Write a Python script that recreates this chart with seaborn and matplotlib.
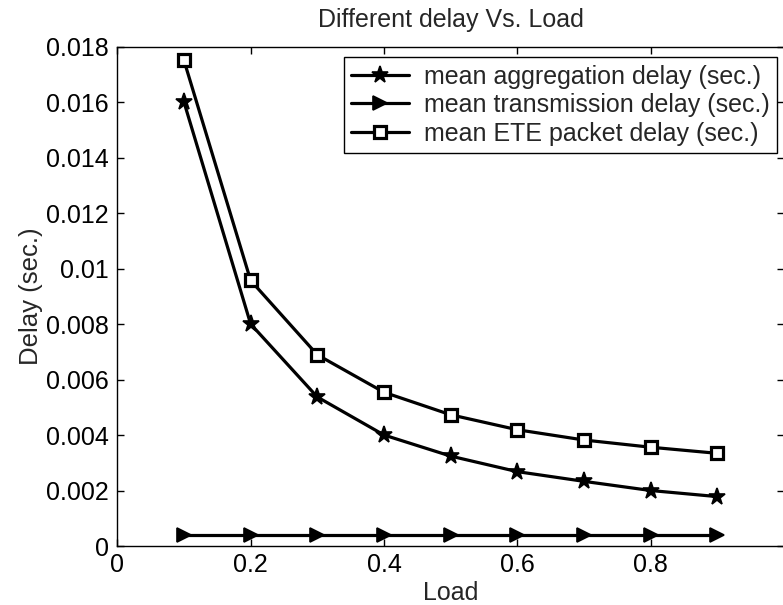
import matplotlib
matplotlib.use("Agg")
import matplotlib.pyplot as plt
import seaborn as sns
import pandas as pd

load = [0.1, 0.2, 0.3, 0.4, 0.5, 0.6, 0.7, 0.8, 0.9]
agg_delay = [0.0160, 0.0080, 0.00537, 0.0040, 0.00324, 0.00268, 0.00233, 0.0020, 0.00178]
trans_delay = [0.0004, 0.0004, 0.0004, 0.0004, 0.0004, 0.0004, 0.0004, 0.0004, 0.0004]
ete_delay = [0.0175, 0.00957, 0.00689, 0.00554, 0.00473, 0.00419, 0.00382, 0.00356, 0.00334]

labels = ["mean aggregation delay (sec.)",
          "mean transmission delay (sec.)",
          "mean ETE packet delay (sec.)"]
xticks = [0, 0.2, 0.4, 0.6, 0.8]
xtick_labels = ["0", "0.2", "0.4", "0.6", "0.8"]
yticks = [0, 0.002, 0.004, 0.006, 0.008, 0.01, 0.012, 0.014, 0.016, 0.018]
ytick_labels = ["0", "0.002", "0.004", "0.006", "0.008", "0.01", "0.012",
                "0.014", "0.016", "0.018"]

sns.set_theme(style="white")
plt.rcParams["font.family"] = ["Liberation Sans", "DejaVu Sans"]

fig = plt.figure(figsize=(7.83, 6.05), dpi=100)
ax = fig.add_axes([0.1498, 0.0975, 0.8515, 0.8256])

styles = [
    dict(marker="*", markersize=12.5, markerfacecolor="black", markeredgecolor="black", markeredgewidth=1.2),
    dict(marker=">", markersize=10.5, markerfacecolor="black", markeredgecolor="black", markeredgewidth=1.2),
    dict(marker="s", markersize=9, markerfacecolor="white", markeredgecolor="black", markeredgewidth=2.3),
]
for vals, lab, st in zip([agg_delay, trans_delay, ete_delay], labels, styles):
    df = pd.DataFrame({"Load": load, "Delay": vals})
    sns.lineplot(data=df, x="Load", y="Delay", ax=ax, color="black",
                 linewidth=2.3, label=lab, **st)

ax.set_xlim(0, 1)
ax.set_ylim(0, 0.018)
ax.set_xticks(xticks)
ax.set_xticklabels(xtick_labels)
ax.set_yticks(yticks)
ax.set_yticklabels(ytick_labels)
ax.tick_params(axis="both", direction="in", length=5, width=1, colors="black",
               labelsize=18, top=True, right=True, bottom=True, left=True)
ax.tick_params(axis="y", pad=6)
ax.tick_params(axis="x", pad=5)
for sp in ax.spines.values():
    sp.set_color("black")
    sp.set_linewidth(1.0)
    sp.set_visible(True)

ax.set_xlabel("Load", fontsize=18, labelpad=3)
ax.set_ylabel("Delay (sec.)", fontsize=18.5, labelpad=2)
ax.set_title("Different delay Vs. Load", fontsize=18, pad=14)

leg = ax.legend(loc="upper right", bbox_to_anchor=(0.9895, 0.979), borderaxespad=0,
                fontsize=18, frameon=True, fancybox=False, edgecolor="black",
                framealpha=1, handlelength=2.3, handletextpad=0.6,
                borderpad=0.3, labelspacing=0.18)
leg.get_frame().set_linewidth(1.0)

fig.savefig("out.png", dpi=100)
